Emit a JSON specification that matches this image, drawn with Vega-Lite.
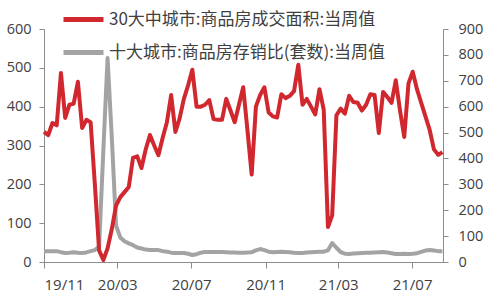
{
  "$schema": "https://vega.github.io/schema/vega-lite/v6.json",
  "autosize": {"type": "none"},
  "padding": {"left": 44, "top": 29, "right": 57, "bottom": 36},
  "width": 399,
  "height": 233,
  "config": {
    "view": {"stroke": null},
    "font": "Open Sans, Noto Sans CJK SC",
    "axis": {"grid": false, "domainColor": "#8c8c8c", "tickColor": "#8c8c8c", "labelColor": "#404040", "labelFontSize": 14.5, "labelFont": "Open Sans", "titleFontSize": 0}
  },
  "data": {"values": [
    {"date": "2019-11-01T00:00:00", "area": 335, "ratio": 42},
    {"date": "2019-11-08T00:00:00", "area": 327, "ratio": 42},
    {"date": "2019-11-15T00:00:00", "area": 358, "ratio": 42},
    {"date": "2019-11-22T00:00:00", "area": 352, "ratio": 42},
    {"date": "2019-11-29T00:00:00", "area": 487, "ratio": 38},
    {"date": "2019-12-06T00:00:00", "area": 371, "ratio": 35},
    {"date": "2019-12-13T00:00:00", "area": 405, "ratio": 36},
    {"date": "2019-12-20T00:00:00", "area": 408, "ratio": 38},
    {"date": "2019-12-27T00:00:00", "area": 464, "ratio": 36},
    {"date": "2020-01-03T00:00:00", "area": 345, "ratio": 35},
    {"date": "2020-01-10T00:00:00", "area": 366, "ratio": 37},
    {"date": "2020-01-17T00:00:00", "area": 360, "ratio": 42},
    {"date": "2020-01-24T00:00:00", "area": 200, "ratio": 46},
    {"date": "2020-01-31T00:00:00", "area": 30, "ratio": 60},
    {"date": "2020-02-07T00:00:00", "area": 5, "ratio": 430},
    {"date": "2020-02-14T00:00:00", "area": 35, "ratio": 788},
    {"date": "2020-02-21T00:00:00", "area": 85, "ratio": 480},
    {"date": "2020-02-28T00:00:00", "area": 145, "ratio": 140},
    {"date": "2020-03-06T00:00:00", "area": 167, "ratio": 95},
    {"date": "2020-03-13T00:00:00", "area": 180, "ratio": 80},
    {"date": "2020-03-20T00:00:00", "area": 193, "ratio": 72},
    {"date": "2020-03-27T00:00:00", "area": 268, "ratio": 65},
    {"date": "2020-04-03T00:00:00", "area": 272, "ratio": 56},
    {"date": "2020-04-10T00:00:00", "area": 242, "ratio": 52},
    {"date": "2020-04-17T00:00:00", "area": 290, "ratio": 48},
    {"date": "2020-04-24T00:00:00", "area": 327, "ratio": 46},
    {"date": "2020-05-01T00:00:00", "area": 300, "ratio": 46},
    {"date": "2020-05-08T00:00:00", "area": 275, "ratio": 46},
    {"date": "2020-05-15T00:00:00", "area": 320, "ratio": 42},
    {"date": "2020-05-22T00:00:00", "area": 360, "ratio": 40},
    {"date": "2020-05-29T00:00:00", "area": 430, "ratio": 36},
    {"date": "2020-06-05T00:00:00", "area": 335, "ratio": 35},
    {"date": "2020-06-12T00:00:00", "area": 370, "ratio": 35},
    {"date": "2020-06-19T00:00:00", "area": 420, "ratio": 35},
    {"date": "2020-06-26T00:00:00", "area": 455, "ratio": 32},
    {"date": "2020-07-03T00:00:00", "area": 495, "ratio": 27},
    {"date": "2020-07-10T00:00:00", "area": 400, "ratio": 30},
    {"date": "2020-07-17T00:00:00", "area": 400, "ratio": 36},
    {"date": "2020-07-24T00:00:00", "area": 405, "ratio": 39},
    {"date": "2020-07-31T00:00:00", "area": 417, "ratio": 39},
    {"date": "2020-08-07T00:00:00", "area": 368, "ratio": 39},
    {"date": "2020-08-14T00:00:00", "area": 366, "ratio": 39},
    {"date": "2020-08-21T00:00:00", "area": 366, "ratio": 39},
    {"date": "2020-08-28T00:00:00", "area": 420, "ratio": 38},
    {"date": "2020-09-04T00:00:00", "area": 390, "ratio": 37},
    {"date": "2020-09-11T00:00:00", "area": 360, "ratio": 37},
    {"date": "2020-09-18T00:00:00", "area": 405, "ratio": 36},
    {"date": "2020-09-25T00:00:00", "area": 450, "ratio": 36},
    {"date": "2020-10-02T00:00:00", "area": 340, "ratio": 37},
    {"date": "2020-10-09T00:00:00", "area": 225, "ratio": 38},
    {"date": "2020-10-16T00:00:00", "area": 400, "ratio": 45},
    {"date": "2020-10-23T00:00:00", "area": 430, "ratio": 50},
    {"date": "2020-10-30T00:00:00", "area": 450, "ratio": 46},
    {"date": "2020-11-06T00:00:00", "area": 385, "ratio": 40},
    {"date": "2020-11-13T00:00:00", "area": 375, "ratio": 38},
    {"date": "2020-11-20T00:00:00", "area": 372, "ratio": 39},
    {"date": "2020-11-27T00:00:00", "area": 432, "ratio": 40},
    {"date": "2020-12-04T00:00:00", "area": 422, "ratio": 39},
    {"date": "2020-12-11T00:00:00", "area": 428, "ratio": 38},
    {"date": "2020-12-18T00:00:00", "area": 440, "ratio": 36},
    {"date": "2020-12-25T00:00:00", "area": 508, "ratio": 35},
    {"date": "2021-01-01T00:00:00", "area": 405, "ratio": 35},
    {"date": "2021-01-08T00:00:00", "area": 420, "ratio": 37},
    {"date": "2021-01-15T00:00:00", "area": 400, "ratio": 38},
    {"date": "2021-01-22T00:00:00", "area": 380, "ratio": 39},
    {"date": "2021-01-29T00:00:00", "area": 445, "ratio": 40},
    {"date": "2021-02-05T00:00:00", "area": 392, "ratio": 40},
    {"date": "2021-02-12T00:00:00", "area": 90, "ratio": 45},
    {"date": "2021-02-19T00:00:00", "area": 120, "ratio": 73},
    {"date": "2021-02-26T00:00:00", "area": 378, "ratio": 55},
    {"date": "2021-03-05T00:00:00", "area": 395, "ratio": 38},
    {"date": "2021-03-12T00:00:00", "area": 382, "ratio": 32},
    {"date": "2021-03-19T00:00:00", "area": 428, "ratio": 31},
    {"date": "2021-03-26T00:00:00", "area": 412, "ratio": 33},
    {"date": "2021-04-02T00:00:00", "area": 410, "ratio": 34},
    {"date": "2021-04-09T00:00:00", "area": 390, "ratio": 35},
    {"date": "2021-04-16T00:00:00", "area": 405, "ratio": 36},
    {"date": "2021-04-23T00:00:00", "area": 432, "ratio": 36},
    {"date": "2021-04-30T00:00:00", "area": 430, "ratio": 37},
    {"date": "2021-05-07T00:00:00", "area": 332, "ratio": 38},
    {"date": "2021-05-14T00:00:00", "area": 438, "ratio": 39},
    {"date": "2021-05-21T00:00:00", "area": 425, "ratio": 37},
    {"date": "2021-05-28T00:00:00", "area": 410, "ratio": 34},
    {"date": "2021-06-04T00:00:00", "area": 468, "ratio": 31},
    {"date": "2021-06-11T00:00:00", "area": 390, "ratio": 31},
    {"date": "2021-06-18T00:00:00", "area": 322, "ratio": 32},
    {"date": "2021-06-25T00:00:00", "area": 460, "ratio": 31},
    {"date": "2021-07-02T00:00:00", "area": 490, "ratio": 32},
    {"date": "2021-07-09T00:00:00", "area": 445, "ratio": 34},
    {"date": "2021-07-16T00:00:00", "area": 410, "ratio": 39},
    {"date": "2021-07-23T00:00:00", "area": 375, "ratio": 44},
    {"date": "2021-07-30T00:00:00", "area": 340, "ratio": 46},
    {"date": "2021-08-06T00:00:00", "area": 290, "ratio": 44},
    {"date": "2021-08-13T00:00:00", "area": 276, "ratio": 42},
    {"date": "2021-08-20T00:00:00", "area": 283, "ratio": 42}
  ]},
  "encoding": {
    "x": {
      "field": "date", "type": "temporal",
      "scale": {"domain": [{"year": 2019, "month": 11, "date": 1}, {"year": 2021, "month": 8, "date": 21}]},
      "axis": {
        "title": null, "format": "%y/%m", "tickSize": 6, "labelPadding": 9, "labelFontSize": 15,
        "values": [
          {"year": 2019, "month": 11, "date": 1},
          {"year": 2020, "month": 3, "date": 1},
          {"year": 2020, "month": 7, "date": 1},
          {"year": 2020, "month": 11, "date": 1},
          {"year": 2021, "month": 3, "date": 1},
          {"year": 2021, "month": 7, "date": 1}
        ]
      }
    },
    "color": {
      "type": "nominal",
      "scale": {
        "domain": ["30大中城市:商品房成交面积:当周值", "十大城市:商品房存销比(套数):当周值"],
        "range": ["#d0282e", "#a3a3a3"]
      },
      "legend": {
        "title": null, "orient": "none", "legendX": 17, "legendY": -32,
        "direction": "vertical",
        "symbolType": "stroke", "symbolSize": 1600, "symbolStrokeWidth": 5,
        "labelFont": "Noto Sans CJK SC", "labelFontSize": 17, "labelColor": "#404040",
        "labelOffset": 3, "rowPadding": -10, "labelLimit": 400
      }
    }
  },
  "layer": [
    {
      "mark": {"type": "line", "strokeWidth": 4, "strokeJoin": "round"},
      "encoding": {
        "y": {"field": "ratio", "type": "quantitative",
          "scale": {"domain": [0, 900]},
          "axis": {"title": null, "orient": "right", "values": [0, 100, 200, 300, 400, 500, 600, 700, 800, 900], "tickSize": 5, "labelPadding": 10}},
        "color": {"datum": "十大城市:商品房存销比(套数):当周值"}
      }
    },
    {
      "mark": {"type": "line", "strokeWidth": 4, "strokeJoin": "round"},
      "encoding": {
        "y": {"field": "area", "type": "quantitative",
          "scale": {"domain": [0, 600]},
          "axis": {"title": null, "orient": "left", "values": [0, 100, 200, 300, 400, 500, 600], "tickSize": 5, "labelPadding": 8}},
        "color": {"datum": "30大中城市:商品房成交面积:当周值"}
      }
    }
  ],
  "resolve": {"scale": {"y": "independent"}}
}
